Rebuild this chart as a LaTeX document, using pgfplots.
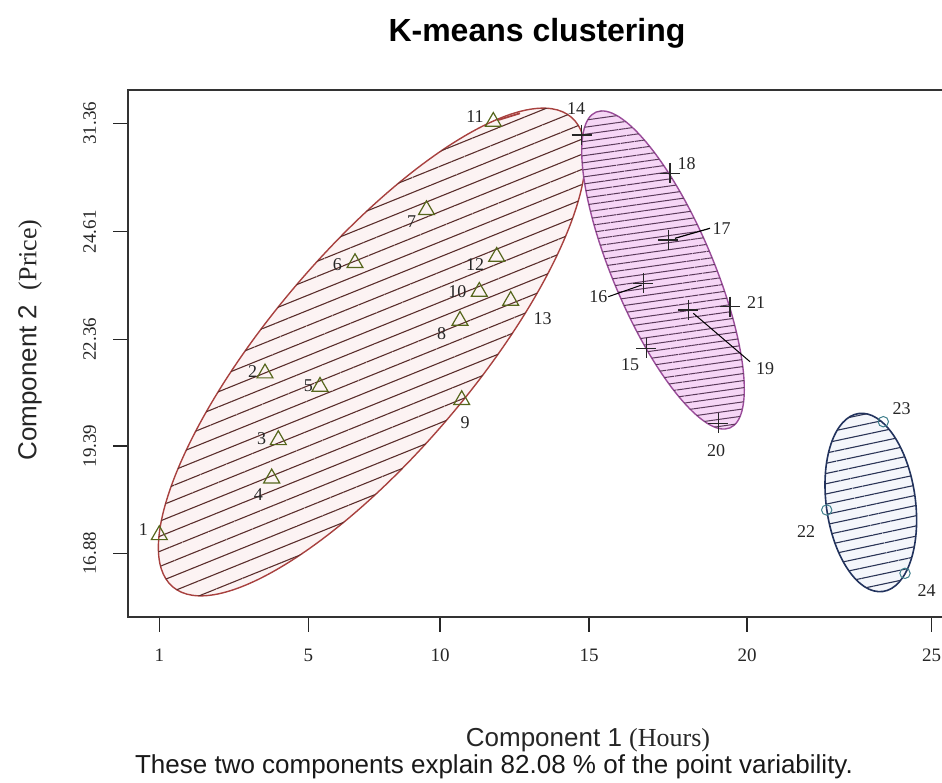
\documentclass[border=0pt]{standalone}
\usepackage{fontspec}
\setmainfont{Liberation Sans}
\newfontfamily\serif{Liberation Serif}
\usepackage{pgfplots}
\usepackage{pgfplotstable}
\pgfplotsset{compat=1.18}
\usetikzlibrary{patterns.meta}

\definecolor{redline}{HTML}{A8413F}
\definecolor{redfill}{HTML}{FCF3F3}
\definecolor{redhatch}{HTML}{5A2E2C}
\definecolor{magline}{HTML}{9A4C9A}
\definecolor{magfill}{HTML}{F6D6F6}
\definecolor{maghatch}{HTML}{5A3A5A}
\definecolor{blueline}{HTML}{22335E}
\definecolor{bluefill}{HTML}{F4F6FB}
\definecolor{bluehatch}{HTML}{2A3456}
\definecolor{olivemk}{HTML}{56661C}
\definecolor{circmk}{HTML}{3F7F8C}

% point coordinates (x to the right, y upward)
\pgfplotstableread{
x y
159.3 247
265.0 408.7
278.3 342
271.7 303.7
320.0 395.3
355.0 519
426.5 572
460.0 461.3
461.7 382
479.3 490.3
493.3 660.3
496.7 525.3
510.7 481.3
}\clusterA
\pgfplotstableread{
x y
581.7 647
646.3 433.7
643.3 498.7
668.3 542
670.0 608.7
688.3 472
718.3 358.7
730.0 475.3
}\clusterB
\pgfplotstableread{
x y
826.7 272
883.3 360.3
905.0 208.7
}\clusterC
\pgfplotstableread{
x y lab
143.3 252 1
252.7 410.3 2
261.7 343.7 3
258.3 287 4
308.3 396 5
337.3 517 6
411.7 560.3 7
441.7 448 8
465.0 359.3 9
457.3 490.3 10
475.0 665.3 11
475.0 517 12
542.7 463.7 13
576.0 673.7 14
630.0 417 15
598.3 485.3 16
721.7 553.7 17
686.7 618.7 18
765.0 413 19
716.0 331.3 20
756.0 479 21
806.0 250.3 22
901.7 373.7 23
926.7 191.3 24
}\pointlabels

\begin{document}
\begin{tikzpicture}
\useasboundingbox (0,0) rectangle (471pt,391pt);
\begin{axis}[
    x=0.5pt, y=0.5pt,
    anchor=south west, at={(64.15pt,82.65pt)},
    xmin=128.3, xmax=943, ymin=165.3, ymax=692,
    clip=false,
    axis line style={line width=1pt, black!80},
    xtick pos=bottom, ytick pos=left,
    tick align=outside,
    major tick length=7.5pt,
    tick style={line width=0.6pt, black!85},
    xtick={159.3,308.3,440,589,747,931.5},
    xticklabels={1,5,10,15,20,25},
    ytick={228.7,336,442.7,550.3,658.7},
    yticklabels={16.88,19.39,22.36,24.61,31.36},
    ticklabel style={font=\serif\fontsize{9.5}{10}\selectfont, black!85},
    xticklabel style={yshift=-5pt},
    yticklabel style={rotate=90, anchor=south, yshift=5pt},
    title={K-means clustering},
    title style={at={(axis cs:537,752)}, anchor=center, yshift=-7.5pt,
        font=\bfseries\fontsize{16}{18}\selectfont},
    xlabel={Component 1 {\serif (Hours)}},
    xlabel style={at={(axis cs:588,42)}, anchor=center,
        font=\fontsize{13}{15}\selectfont, black!85},
    ylabel={Component 2\ \ {\serif (Price)}},
    ylabel style={at={(axis cs:30,442)}, anchor=center,
        font=\fontsize{13}{15}\selectfont, black!85},
]
% cluster ellipses
\draw[redline, line width=0.7pt, fill=redfill,
    postaction={pattern={Lines[angle=22,distance=7pt,line width=0.55pt]},
                pattern color=redhatch}]
    (axis cs:372,430) ellipse [x radius=154pt, y radius=50.5pt, rotate=49.7];
\draw[magline, line width=0.7pt, fill=magfill,
    postaction={pattern={Lines[angle=8,distance=3.5pt,line width=0.5pt]},
                pattern color=maghatch}]
    (axis cs:663,512) ellipse [x radius=85.75pt, y radius=25pt, rotate=113];
\draw[blueline, line width=0.8pt, fill=bluefill,
    postaction={pattern={Lines[angle=12,distance=5pt,line width=0.55pt]},
                pattern color=bluehatch}]
    (axis cs:870.8,279.5) ellipse [x radius=44.9pt, y radius=22.3pt, rotate=97.7];

% leader lines
\addplot[redline, line width=0.9pt] coordinates {(498.3,662) (520,668.7)};
\addplot[black, line width=0.5pt] coordinates {(608.3,485.3) (641.7,497)};
\addplot[black, line width=0.6pt] coordinates {(710,553.7) (675,543.7)};
\addplot[black, line width=0.5pt] coordinates {(693.3,468.7) (750,420.3)};

% points
\addplot[only marks, mark=triangle, mark size=4.6pt,
    mark options={draw=olivemk, fill=none, line width=0.6pt}] table {\clusterA};
\addplot[only marks, mark=+, mark size=5pt,
    mark options={draw=black!85, line width=0.6pt}] table {\clusterB};
\addplot[only marks, mark=o, mark size=2.6pt,
    mark options={draw=circmk, fill=none, line width=0.5pt}] table {\clusterC};

% point numbers
\addplot[draw=none, mark=none, nodes near coords, point meta=explicit symbolic,
    every node near coord/.append style={anchor=center, inner sep=0pt,
        font=\serif\fontsize{9}{10}\selectfont, black!85}]
    table[meta=lab] {\pointlabels};

\node[font=\fontsize{13}{15}\selectfont, black!90] at (axis cs:494,15)
    {These two components explain 82.08 \% of the point variability.};
\end{axis}
\end{tikzpicture}
\end{document}
